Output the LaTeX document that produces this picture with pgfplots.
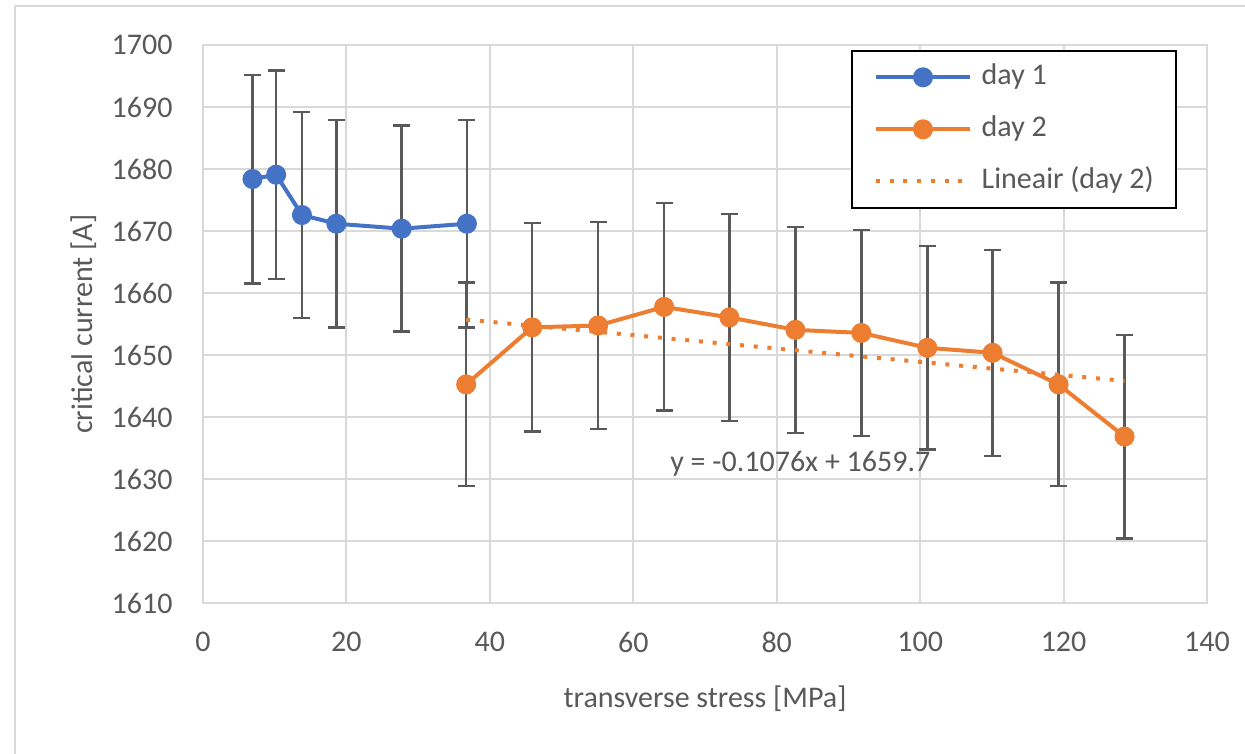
\documentclass[border=0pt]{standalone}
\usepackage{fontspec}
\setmainfont{Carlito}
\usepackage{pgfplots}
\pgfplotsset{compat=1.18}
\usepackage{pgfplotstable}
\definecolor{xlblue}{HTML}{4472C4}
\definecolor{xlorange}{HTML}{ED7D31}
\definecolor{errgray}{HTML}{595959}
\definecolor{gridgray}{HTML}{D9D9D9}
\definecolor{txtgray}{HTML}{595959}

\pgfplotstableread{
x y e
6.9 1678.4 16.8
10.2 1679.1 16.8
13.8 1672.6 16.6
18.6 1671.2 16.7
27.7 1670.4 16.6
36.8 1671.2 16.7
}\dayone

\pgfplotstableread{
x y e
36.7 1645.3 16.4
45.9 1654.5 16.8
55.1 1654.8 16.7
64.3 1657.8 16.7
73.4 1656.1 16.7
82.6 1654.1 16.6
91.8 1653.6 16.6
101.0 1651.2 16.4
110.1 1650.4 16.6
119.3 1645.3 16.4
128.5 1636.9 16.4
}\daytwo

\begin{document}
\begin{tikzpicture}[font=\fontsize{12}{14}\selectfont]
\path[use as bounding box] (0,0) rectangle (498pt,301.6pt);
\draw[gridgray, line width=0.8pt] (6pt,0pt) -- (6pt,299.2pt) -- (498pt,299.2pt);
\begin{axis}[
  at={(81.2pt,60.2pt)}, anchor=south west,
  width=401.6pt, height=223.4pt, scale only axis,
  xmin=0, xmax=140, ymin=1610, ymax=1700,
  xtick={0,20,...,140}, ytick={1610,1620,...,1700},
  major tick length=0pt,
  grid=major,
  major grid style={draw=gridgray, line width=0.8pt},
  axis line style={draw=gridgray, line width=0.8pt},
  /pgf/number format/assume math mode=true,
  /pgf/number format/set thousands separator={},
  tick label style={text=txtgray, font=\fontsize{12}{14}\selectfont},
  yticklabel style={anchor=east, inner sep=0pt, xshift=-12pt},
  xticklabel style={anchor=north, inner sep=0pt, yshift=-11.4pt},
  label style={text=txtgray, font=\fontsize{12}{14}\selectfont},
  xlabel={transverse stress [MPa]},
  ylabel={critical current [A]},
  xlabel style={at={(axis description cs:0.5,-0.1871)}, anchor=base},
  ylabel style={at={(axis description cs:-0.1096,0.5)}, anchor=base},
  legend cell align=left,
  legend image code/.code={\draw[mark repeat=2,mark phase=2,#1] plot coordinates {(0pt,0pt) (18.8pt,0pt) (37.6pt,0pt)};},
  legend style={at={(axis description cs:0.6454,0.991)}, anchor=north west,
    draw=black, line width=0.8pt, fill=white, text=txtgray,
    font=\fontsize{12}{14}\selectfont,
    inner xsep=8.8pt, inner ysep=5pt, row sep=9.8pt,
    nodes={inner sep=0pt, text height=8.5pt, text depth=2.5pt},
    /tikz/every odd column/.append style={column sep=3.9pt}},
]
\addplot[color=xlblue, line width=1.6pt, mark=*, mark size=3.2pt,
  mark options={solid, fill=xlblue, draw=xlblue},
  error bars/.cd, y dir=both, y explicit,
  error bar style={color=errgray, line width=1pt},
  error mark options={rotate=90, color=errgray, mark size=3.4pt, line width=1pt}]
  table[x=x, y=y, y error=e] {\dayone};
\addlegendentry{day 1}
\addplot[color=xlorange, line width=1.6pt, mark=*, mark size=3.2pt,
  mark options={solid, fill=xlorange, draw=xlorange},
  error bars/.cd, y dir=both, y explicit,
  error bar style={color=errgray, line width=1pt},
  error mark options={rotate=90, color=errgray, mark size=3.4pt, line width=1pt}]
  table[x=x, y=y, y error=e] {\daytwo};
\addlegendentry{day 2}
\addplot[color=xlorange, line width=1.6pt, dash pattern=on 1.6pt off 3.9pt, no marks]
  coordinates {(36.7,1655.75) (128.5,1645.87)};
\addlegendentry{Lineair (day 2)}
\node[anchor=base west, text=txtgray, inner sep=0pt] at (axis cs:65.1,1631.2) {y = -0.1076x + 1659.7};
\end{axis}
\end{tikzpicture}
\end{document}
